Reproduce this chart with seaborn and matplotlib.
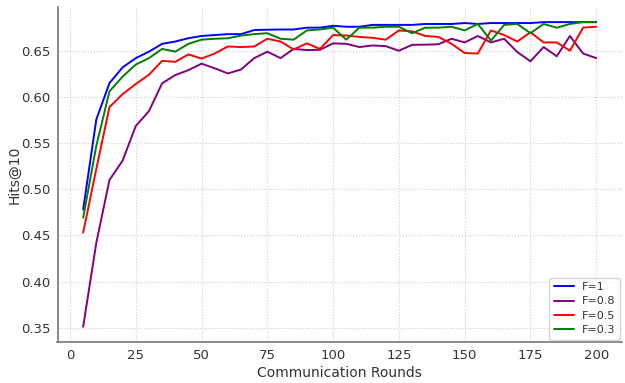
import pandas as pd
import numpy as np
import matplotlib
matplotlib.use('Agg')
import matplotlib.pyplot as plt
import seaborn as sns

# Communication rounds 5..200
rounds = list(range(5, 205, 5))

hits_f1 = [0.478, 0.5755, 0.615, 0.632, 0.642, 0.649, 0.6575, 0.660,
           0.6636, 0.666, 0.667, 0.668, 0.668, 0.6724, 0.6728, 0.673,
           0.673, 0.675, 0.675, 0.677, 0.676, 0.676, 0.678, 0.678,
           0.678, 0.678, 0.679, 0.679, 0.679, 0.680, 0.679, 0.680,
           0.680, 0.680, 0.680, 0.681, 0.681, 0.681, 0.681, 0.681]

hits_f08 = [0.351, 0.442, 0.510, 0.531, 0.5685, 0.5845, 0.6147, 0.6236,
            0.629, 0.636, 0.631, 0.6254, 0.6297, 0.642, 0.649, 0.642,
            0.652, 0.6507, 0.651, 0.658, 0.6575, 0.654, 0.6557, 0.655,
            0.650, 0.6564, 0.6566, 0.657, 0.663, 0.659, 0.666, 0.659,
            0.663, 0.6486, 0.6386, 0.654, 0.644, 0.666, 0.647, 0.642]

hits_f05 = [0.453, 0.522, 0.589, 0.603, 0.614, 0.624, 0.639, 0.638,
            0.646, 0.6415, 0.647, 0.6546, 0.654, 0.6546, 0.663, 0.660,
            0.6514, 0.658, 0.652, 0.667, 0.6665, 0.665, 0.664, 0.662,
            0.672, 0.671, 0.666, 0.665, 0.6575, 0.6475, 0.647, 0.672,
            0.667, 0.660, 0.670, 0.659, 0.659, 0.650, 0.675, 0.676]

hits_f03 = [0.469, 0.547, 0.606, 0.622, 0.635, 0.642, 0.652, 0.649,
            0.6575, 0.662, 0.663, 0.6635, 0.6664, 0.668, 0.669, 0.663,
            0.662, 0.672, 0.673, 0.675, 0.662, 0.675, 0.675, 0.676,
            0.676, 0.669, 0.675, 0.675, 0.676, 0.672, 0.679, 0.661,
            0.678, 0.679, 0.669, 0.679, 0.675, 0.679, 0.681, 0.681]

labels = ['F=1', 'F=0.8', 'F=0.5', 'F=0.3']
colors = ['blue', 'purple', 'red', 'green']

# long-form table for seaborn
df = pd.concat([
    pd.DataFrame({'round': rounds, 'hits': vals, 'F': lab})
    for lab, vals in zip(labels, [hits_f1, hits_f08, hits_f05, hits_f03])
])

sns.set_style('white')
plt.rcParams['font.family'] = ['DejaVu Sans']

fig, ax = plt.subplots(figsize=(6.25, 3.83), dpi=100)
fig.subplots_adjust(left=0.092, right=0.995, top=0.982, bottom=0.107)

sns.lineplot(data=df, x='round', y='hits', hue='F', hue_order=labels,
             palette=colors, linewidth=1.4, ax=ax)

ax.grid(True, linestyle=':', color='#cccccc', linewidth=0.8)
for side in ['top', 'right']:
    ax.spines[side].set_visible(False)
for side in ['left', 'bottom']:
    ax.spines[side].set_color('#777777')
    ax.spines[side].set_linewidth(1.2)

ax.tick_params(axis='both', length=3, pad=2, color='#777777',
               labelcolor='#333333', labelsize=9.5)
ax.set_xticks([0, 25, 50, 75, 100, 125, 150, 175, 200])
ax.set_yticks([0.35, 0.40, 0.45, 0.50, 0.55, 0.60, 0.65])
ax.set_xlabel('Communication Rounds', color='#333333', fontsize=10, labelpad=3)
ax.set_ylabel('Hits@10', color='#333333', fontsize=10)
ax.yaxis.set_label_coords(-0.064, 0.5)

leg = ax.legend(loc='lower right', fontsize=8, frameon=True, title=None,
                handlelength=1.8, labelspacing=0.4, handletextpad=0.7,
                borderaxespad=0.2)
leg.get_frame().set_edgecolor('#cccccc')
for t in leg.get_texts():
    t.set_color('#333333')

fig.savefig('out.png', dpi=100)
